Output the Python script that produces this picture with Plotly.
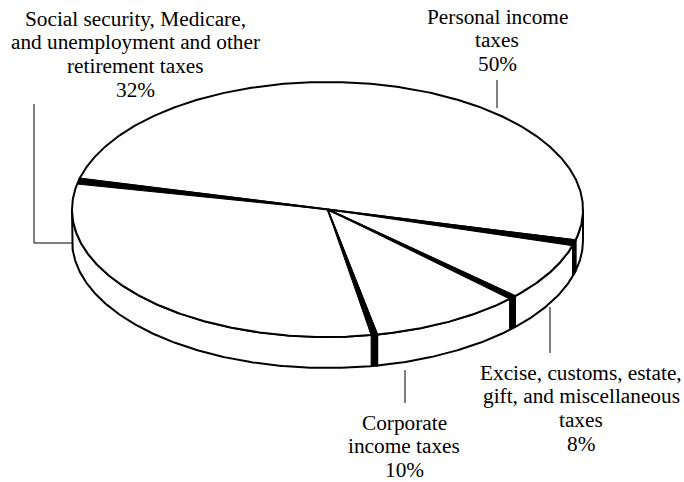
import numpy as np
import plotly.graph_objects as go

# ---------------- data ----------------
categories = [
    "Personal income<br>taxes",
    "Excise, customs, estate,<br>gift, and miscellaneous<br>taxes",
    "Corporate<br>income taxes",
    "Social security, Medicare,<br>and unemployment and other<br>retirement taxes",
]
values = [50, 8, 10, 32]

# ---------------- styling / geometry (pixel space) ----------------
W, H = 684, 482
CX, CY = 327.5, 209.5
RX, RY = 255.5, 127.5
DEPTH = 31
START = 166.0          # degrees (math convention) where first slice begins, clockwise
WALL_PX = 6            # visible radial wall thickness at rim
FS = 21.3
FONT = dict(family='"Liberation Serif", "Times New Roman", Times, serif', size=FS, color="black")
LINE_GAP = 23.6

# label placement: (center x, first baseline y) and leader lines
label_pos = [(497, 24), (581, 380), (404, 430), (135, 26)]
leaders = [
    [(497, 80), (497, 108)],
    [(550, 307), (550, 353)],
    [(405, 370), (405, 403)],
    [(34, 104), (34, 243), (72, 243)],
]


def pt(t_deg, dy=0.0):
    t = np.radians(t_deg)
    return CX + RX * np.cos(t), CY - RY * np.sin(t) + dy


def arc(t0, t1, dy=0.0, n=None):
    if n is None:
        n = max(4, int(abs(t1 - t0) * 2))
    ts = np.linspace(t0, t1, n)
    xs, ys = pt(ts, dy)
    return list(xs), list(ys)


total = float(sum(values))
bounds = []
t = START
for v in values:
    t_end = t - 360.0 * v / total
    bounds.append((t, t_end))
    t = t_end

fig = go.Figure()


def poly(xs, ys, fill, lw=2):
    fig.add_trace(go.Scatter(
        x=xs + [xs[0]], y=ys + [ys[0]], mode="lines", fill="toself",
        fillcolor=fill, line=dict(color="black", width=lw),
        hoverinfo="skip", showlegend=False))


# ---- side walls (front, visible half: angles in [-180, 0] mod 360)
for (ts, te) in bounds:
    hi, lo = ts, te
    for shift in (0, -360, 360):
        a = min(hi + shift, 0.0)
        b = max(lo + shift, -180.0)
        if a > b:
            tx, ty = arc(a, b)
            bx, by = arc(b, a, DEPTH)
            poly(tx + bx, ty + by, "white")

# ---- top faces
for (ts, te) in bounds:
    ax, ay = arc(ts, te)
    poly([CX] + ax, [CY] + ay, "white")


# ---- visible radial walls (black)
def speed(t_deg):
    t = np.radians(t_deg)
    return np.hypot(RX * np.sin(t), RY * np.cos(t))


for (ts, te) in bounds:
    tb = ts
    s = -np.sign(np.cos(np.radians(tb)))
    d = np.degrees(WALL_PX / speed(tb)) * s
    x1, y1 = pt(tb)
    x2, y2 = pt(tb + d)
    poly([CX, float(x1), float(x2)], [CY, float(y1), float(y2)], "black", lw=1)
    tm = ((tb + 180) % 360) - 180
    if -180 <= tm <= 0:
        x3, y3 = pt(tb + d, DEPTH)
        x4, y4 = pt(tb, DEPTH)
        poly([float(x1), float(x2), float(x3), float(x4)],
             [float(y1), float(y2), float(y3), float(y4)], "black", lw=1)

# ---- leader lines
for seg in leaders:
    fig.add_trace(go.Scatter(
        x=[p[0] for p in seg], y=[p[1] for p in seg], mode="lines",
        line=dict(color="black", width=1), hoverinfo="skip", showlegend=False))

# ---- labels (one annotation per line, to match the tight line spacing)
MID = 0.3375 * FS  # distance from baseline to middle of text box
for cat, v, (lx, base) in zip(categories, values, label_pos):
    lines = cat.split("<br>") + [f"{v}%"]
    for i, ln in enumerate(lines):
        fig.add_annotation(x=lx, y=base + i * LINE_GAP - MID, xref="x", yref="y",
                           text=ln, showarrow=False, xanchor="center",
                           yanchor="middle", align="center", font=FONT,
                           borderpad=0)

fig.update_layout(
    width=W, height=H, margin=dict(l=0, r=0, t=0, b=0),
    paper_bgcolor="white", plot_bgcolor="white",
    xaxis=dict(range=[0, W], visible=False, fixedrange=True),
    yaxis=dict(range=[H, 0], visible=False, fixedrange=True),
)

fig.write_html("out.html", config={"displayModeBar": False},
               post_script="document.body.style.margin='0';document.body.style.overflow='hidden';")
